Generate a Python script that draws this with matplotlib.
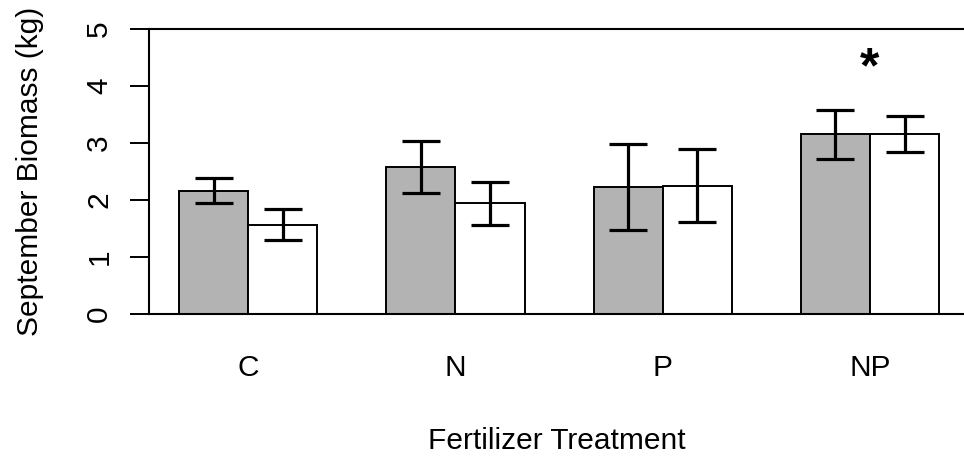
import matplotlib
matplotlib.use("Agg")
import matplotlib.pyplot as plt
import numpy as np

plt.rcParams["font.family"] = ["Liberation Sans", "DejaVu Sans"]

treatments = ["C", "N", "P", "NP"]
# two bars per treatment: grey and white series
grey_mean = [2.16, 2.58, 2.23, 3.15]
grey_err = [0.22, 0.46, 0.76, 0.43]
white_mean = [1.57, 1.94, 2.25, 3.16]
white_err = [0.27, 0.37, 0.64, 0.31]
star_groups = ["NP"]
star_y = 4.3

fig = plt.figure(figsize=(9.64, 4.58), dpi=100)
ax = fig.add_axes([149 / 964, 144 / 458, 1 - 149 / 964, 285 / 458])

group = np.arange(len(treatments)) * 3 + 2
err_kw = dict(ecolor="black", elinewidth=2.3, capsize=19 * 0.72, capthick=2.3)
ax.bar(group - 0.5, grey_mean, width=1, color="#B3B3B3", edgecolor="black",
       linewidth=1.4, yerr=grey_err, error_kw=err_kw)
ax.bar(group + 0.5, white_mean, width=1, color="white", edgecolor="black",
       linewidth=1.4, yerr=white_err, error_kw=err_kw)

for t in star_groups:
    i = treatments.index(t)
    ax.text(group[i], star_y, "*", ha="center", va="center",
            fontsize=36, fontweight="bold")

ax.set_xlim(0.566, 12.36)
ax.set_ylim(0, 5)
ax.set_yticks(range(6))
ax.set_yticklabels([str(v) for v in range(6)], rotation=90, va="center")
ax.set_xticks(group)
ax.set_xticklabels(treatments)
ax.tick_params(axis="y", length=13.7, width=1.4, pad=12, labelsize=21.5)
ax.tick_params(axis="x", length=0, pad=29, labelsize=21.5)

ax.spines["right"].set_visible(False)
for s in ["left", "top", "bottom"]:
    ax.spines[s].set_linewidth(1.5)

ax.set_ylabel("September Biomass (kg)", fontsize=21.5, labelpad=30)
ax.set_xlabel("Fertilizer Treatment", fontsize=21.5, labelpad=32)

fig.savefig("out.png", dpi=100)
